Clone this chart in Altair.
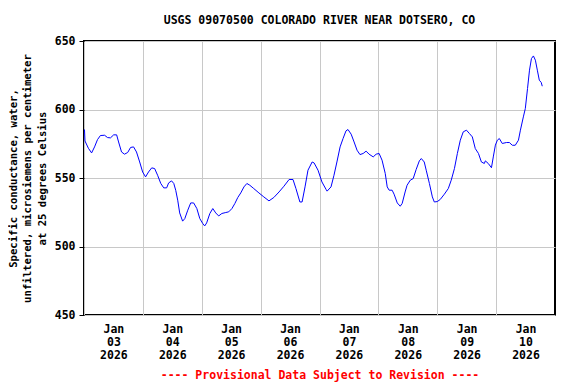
import altair as alt
import pandas as pd

# Hours after 2026-01-03 00:00 (local) and specific conductance (uS/cm)
hours = [0.2, 0.4, 1.8, 3.1, 4.3, 5.5, 6.7, 8.4, 9.6, 10.8, 12.1, 13.3, 14.1, 15.3, 16.5,
         17.8, 19.0, 20.2, 21.4, 22.7, 23.9, 25.1, 26.3, 27.6, 28.8, 30.0, 31.3, 32.5,
         33.7, 34.5, 35.7, 36.6, 37.4, 38.2, 39.0, 40.2, 41.1, 42.3, 43.5, 44.7, 46.0,
         47.2, 48.4, 49.2, 50.0, 51.3, 52.5, 53.7, 54.9, 56.2, 57.8, 59.0, 60.3, 61.5,
         62.7, 63.9, 65.2, 66.4, 67.6, 69.2, 71.3, 73.3, 75.4, 77.4, 79.5, 81.5, 83.6,
         85.2, 86.4, 88.0, 88.9, 90.1, 91.3, 93.0, 93.8, 95.4, 97.0, 98.7, 99.1, 100.7,
         101.9, 103.1, 104.4, 105.6, 106.8, 107.6, 108.9, 110.1, 111.3, 112.5, 113.8,
         115.0, 116.2, 117.9, 119.1, 120.3, 121.5, 122.8, 123.6, 124.4, 125.6, 126.4,
         127.7, 128.9, 129.7, 130.9, 131.7, 133.0, 134.2, 135.4, 136.7, 137.5, 138.7,
         139.5, 140.8, 142.0, 142.8, 144.0, 145.2, 146.9, 148.5, 149.7, 151.0, 152.2,
         153.4, 154.6, 155.9, 157.1, 158.3, 159.5, 160.8, 162.0, 163.2, 163.6, 164.8,
         166.1, 166.9, 167.7, 168.5, 169.3, 170.5, 172.2, 173.4, 174.6, 175.8, 177.1,
         177.9, 179.1, 179.9, 180.8, 181.6, 182.4, 183.2, 184.0, 184.8, 185.6, 186.4,
         186.8]
values = [585.4, 577.0, 571.7, 568.3, 572.7, 578.0, 581.0, 581.2, 579.5, 579.3, 581.5,
          581.5, 576.3, 569.0, 567.4, 568.6, 572.3, 572.7, 569.0, 561.7, 554.4, 550.8,
          554.4, 557.4, 556.9, 552.0, 546.0, 542.8, 542.8, 546.4, 547.9, 546.0, 541.0,
          533.8, 524.5, 518.5, 520.4, 526.5, 531.8, 531.8, 527.7, 520.4, 516.8, 515.0,
          517.2, 524.1, 527.7, 524.5, 522.3, 524.1, 524.8, 525.3, 527.7, 531.4, 535.8,
          539.1, 543.5, 546.0, 544.7, 542.3, 539.1, 536.2, 533.3, 535.8, 539.8, 544.0,
          548.9, 548.9, 542.3, 532.5, 532.5, 543.5, 555.7, 561.7, 561.0, 555.7, 547.1,
          541.6, 540.4, 543.5, 552.0, 561.7, 572.7, 578.8, 584.4, 585.4, 582.0, 576.3,
          570.3, 567.1, 567.9, 569.6, 567.4, 565.4, 567.4, 567.9, 563.0, 553.3, 543.5,
          541.1, 541.1, 538.2, 531.8, 529.4, 531.4, 539.8, 544.7, 548.4, 549.6, 556.2,
          562.5, 564.2, 561.7, 555.7, 546.0, 536.2, 532.5, 532.8, 534.3, 538.2, 542.3,
          548.4, 556.9, 567.9, 577.6, 583.7, 584.9, 582.5, 580.0, 571.5, 567.9, 561.7,
          560.6, 562.5, 560.6, 557.5, 566.0, 574.0, 577.6, 578.8, 575.2, 575.9, 575.9,
          573.9, 573.9, 577.6, 584.9, 594.6, 600.7, 615.3, 628.7, 637.2, 639.1, 636.0,
          628.7, 621.4, 619.7, 617.0]

tick_days = [3, 4, 5, 6, 7, 8, 9, 10]
y_ticks = [450, 500, 550, 600, 650]

start = pd.Timestamp("2026-01-03 00:00")
df = pd.DataFrame({
    "time": start + pd.to_timedelta(hours, unit="h"),
    "value": values,
})

FONT = "DejaVu Sans Mono"

chart = alt.Chart(df).mark_line(color="#0000ff", strokeWidth=1, interpolate="linear").encode(
    x=alt.X(
        "time:T",
        scale=alt.Scale(domain=[alt.DateTime(year=2026, month=1, date=3),
                                alt.DateTime(year=2026, month=1, date=11)]),
        axis=alt.Axis(
            values=[alt.DateTime(year=2026, month=1, date=d) for d in tick_days],
            labelExpr="[timeFormat(datum.value, '%b'), timeFormat(datum.value, '%d'), timeFormat(datum.value, '%Y')]",
            labelOffset=29.4,
            labelFlush=False,
            labelOverlap=False,
            labelBound=False,
            labelBaseline="top",
            labelPadding=8,
            labelLineHeight=13,
            labelFont=FONT,
            labelFontSize=11.5,
            labelFontWeight="bold",
            labelColor="black",
            ticks=False,
            domain=False,
            grid=True,
            gridColor="#c8c8c8",
            gridWidth=1,
            title="---- Provisional Data Subject to Revision ----",
            titleColor="#ff0000",
            titleFont=FONT,
            titleFontSize=11.5,
            titleFontWeight="bold",
            titleBaseline="middle",
            titleY=60,
        ),
    ),
    y=alt.Y(
        "value:Q",
        scale=alt.Scale(domain=[450, 650], nice=False, zero=False),
        axis=alt.Axis(
            values=y_ticks,
            format="d",
            labelFont=FONT,
            labelFontSize=11.5,
            labelFontWeight="bold",
            labelColor="black",
            labelPadding=4,
            tickSize=5,
            tickColor="black",
            domain=False,
            grid=True,
            gridColor="#c8c8c8",
            gridWidth=1,
            title=["Specific conductance, water,",
                   "unfiltered, microsiemens per centimeter",
                   "at 25 degrees Celsius"],
            titleFont=FONT,
            titleFontSize=10.6,
            titleFontWeight="bold",
            titleColor="black",
            titleLineHeight=14.5,
            titleAngle=270,
            titleAlign="center",
            titleBaseline="bottom",
            titleX=-66,
            titleY=137,
        ),
    ),
).properties(
    width=471,
    height=274,
    title=alt.TitleParams(
        "USGS 09070500 COLORADO RIVER NEAR DOTSERO, CO",
        font=FONT,
        fontSize=11.5,
        fontWeight="bold",
        color="black",
        anchor="middle",
        frame="group",
        baseline="alphabetic",
        offset=18,
        dy=18,
    ),
    autosize=alt.AutoSizeParams(type="none"),
    padding={"left": 76, "top": 33, "right": 13, "bottom": 69},
    background="white",
).configure_view(
    stroke="black",
    strokeWidth=2,
)

chart.save("out.html", embed_options={"renderer": "svg", "actions": False})
